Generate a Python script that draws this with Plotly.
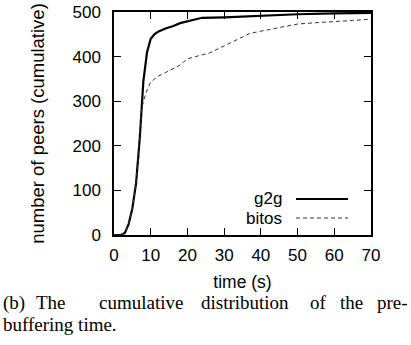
import plotly.graph_objects as go

# ---- data ----
g2g_time = [0, 2, 3, 4, 5, 6, 7, 8, 9, 10, 11, 12, 14, 16, 18, 20, 22, 24, 30, 40, 50, 60, 70]
g2g_peers = [0, 0, 5, 25, 60, 115, 215, 345, 410, 440, 450, 456, 463, 468, 475, 479, 484, 487, 488, 492, 495, 497, 498]

bitos_time = [0, 2, 3, 4, 5, 6, 7, 7.5, 8, 9, 10, 11, 12, 14, 16, 18, 20, 22, 24, 26, 30, 34, 37, 40, 44, 50, 55, 60, 65, 70]
bitos_peers = [0, 0, 5, 25, 60, 115, 225, 280, 300, 325, 343, 350, 356, 364, 372, 381, 395, 400, 404, 408, 424, 440, 452, 457, 463, 473, 476, 478, 481, 484]

x_ticks = [0, 10, 20, 30, 40, 50, 60, 70]
y_ticks = [0, 100, 200, 300, 400, 500]

series_names = ["g2g", "bitos"]
caption_line1 = ["(b)", "The", "cumulative", "distribution", "of", "the", "pre-"]
caption_line2 = "buffering time."

# ---- layout geometry (pixels) ----
W, H = 411, 345
L, R, T, B = 114, 40, 12, 110
PW, PH = W - L - R, H - T - B


def px(x):
    return (x - L) / PW


def py(y):
    return (H - B - y) / PH


fig = go.Figure()
fig.add_trace(go.Scatter(x=g2g_time, y=g2g_peers, mode="lines", name=series_names[0],
                         line=dict(color="black", width=2.2), showlegend=False))
fig.add_trace(go.Scatter(x=bitos_time, y=bitos_peers, mode="lines", name=series_names[1],
                         line=dict(color="#333333", width=1, dash="4px,3px"), showlegend=False))

font_sans = "Liberation Sans, Arial, sans-serif"
axis_common = dict(showline=True, linecolor="black", linewidth=1.5, mirror="ticks",
                   ticks="inside", ticklen=7, tickwidth=1.2, tickcolor="black",
                   showgrid=False, zeroline=False,
                   tickfont=dict(family=font_sans, size=17, color="black"))

fig.update_xaxes(range=[0, 70], tickvals=x_ticks, ticklabelstandoff=4,
                 title=dict(text="time (s)", font=dict(family=font_sans, size=17.5, color="black"),
                            standoff=12),
                 **axis_common)
fig.update_yaxes(range=[0, 500], tickvals=y_ticks, ticklabelstandoff=8,
                 title=dict(text="number of peers (cumulative)",
                            font=dict(family=font_sans, size=18.5, color="black"), standoff=23),
                 **axis_common)

annotations = []
# legend labels (right-aligned, gnuplot style)
for name, yy in zip(series_names, [198, 218]):
    annotations.append(dict(text=name, x=px(284), y=py(yy), xref="paper", yref="paper",
                            xanchor="right", yanchor="middle", showarrow=False,
                            font=dict(family=font_sans, size=17, color="black")))
shapes = [
    dict(type="line", xref="paper", yref="paper", x0=px(296), x1=px(348), y0=py(199), y1=py(199),
         line=dict(color="black", width=2.2)),
    dict(type="line", xref="paper", yref="paper", x0=px(296), x1=px(348), y0=py(218), y1=py(218),
         line=dict(color="#333333", width=1, dash="4px,3px")),
]

# caption (justified first line: one annotation per word)
word_x = [1, 34, 97, 199, 308, 338, 375]
font_serif = "Liberation Serif, Times New Roman, serif"
for w, xx in zip(caption_line1, word_x):
    annotations.append(dict(text=w, x=px(xx), y=py(302.5), xref="paper", yref="paper",
                            xanchor="left", yanchor="middle", showarrow=False,
                            font=dict(family=font_serif, size=19, color="black")))
annotations.append(dict(text=caption_line2, x=px(1), y=py(324), xref="paper", yref="paper",
                        xanchor="left", yanchor="middle", showarrow=False,
                        font=dict(family=font_serif, size=19, color="black")))

fig.update_layout(width=W, height=H, margin=dict(l=L, r=R, t=T, b=B, autoexpand=False),
                  paper_bgcolor="white", plot_bgcolor="white",
                  annotations=annotations, shapes=shapes)

fig.write_html("out.html")
